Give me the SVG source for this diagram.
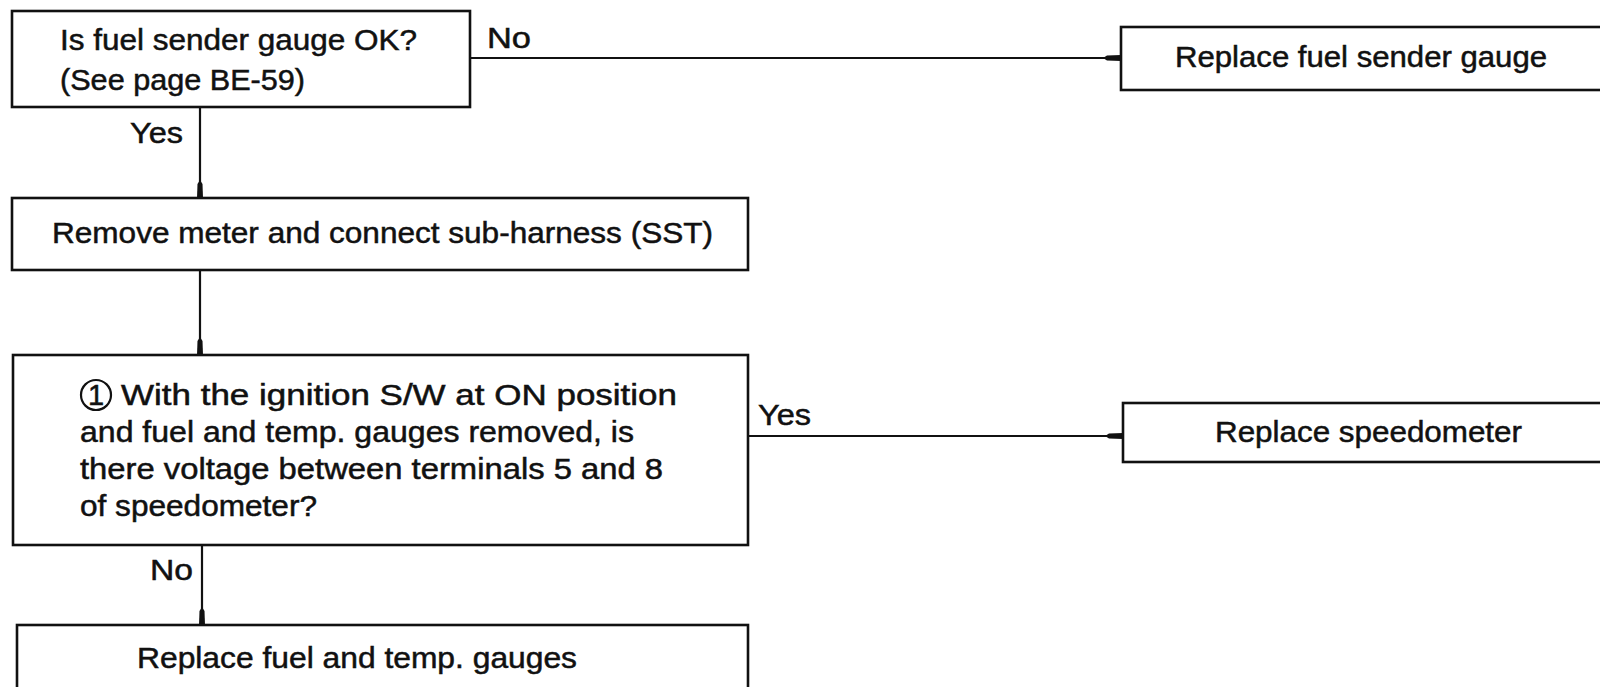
<svg xmlns="http://www.w3.org/2000/svg" width="1600" height="687" viewBox="0 0 1600 687">
  <style>
    .box { fill: #ffffff; stroke: #111111; stroke-width: 2.6; }
    .txt { font-family: "Liberation Sans", Arial, sans-serif; font-size: 29px; fill: #111111; stroke: #111111; stroke-width: 0.5; }
    .lbl { font-family: "Liberation Sans", Arial, sans-serif; font-size: 29px; fill: #111111; stroke: #111111; stroke-width: 0.5; }
    .wire { fill: none; stroke: #111111; stroke-width: 2.2; }
  </style>
  <defs>
    <marker id="arrow" markerUnits="userSpaceOnUse" markerWidth="20" markerHeight="10" refX="18" refY="4" orient="auto">
      <path d="M0,4 L4,1.5 L18,1 L18,7 L4,6.5 Z" fill="#111111"/>
    </marker>
  </defs>
  <rect width="1600" height="687" fill="#ffffff"/>

  <!-- connectors -->
  <g id="connectors">
    <line class="wire" x1="470" y1="58" x2="1121" y2="58" marker-end="url(#arrow)"/>
    <line class="wire" x1="200" y1="107" x2="200" y2="198" marker-end="url(#arrow)"/>
    <line class="wire" x1="200" y1="270" x2="200" y2="355" marker-end="url(#arrow)"/>
    <line class="wire" x1="748" y1="436" x2="1123" y2="436" marker-end="url(#arrow)"/>
    <line class="wire" x1="202" y1="545" x2="202" y2="625" marker-end="url(#arrow)"/>
    <text class="lbl" x="487" y="48" textLength="44" lengthAdjust="spacingAndGlyphs">No</text>
    <text class="lbl" x="130" y="143" textLength="53" lengthAdjust="spacingAndGlyphs">Yes</text>
    <text class="lbl" x="758" y="425" textLength="53" lengthAdjust="spacingAndGlyphs">Yes</text>
    <text class="lbl" x="150" y="580" textLength="43" lengthAdjust="spacingAndGlyphs">No</text>
  </g>

  <!-- decision: fuel sender gauge -->
  <g id="check-sender">
    <rect class="box" x="12" y="11" width="458" height="96"/>
    <text class="txt" x="60" y="50" textLength="357" lengthAdjust="spacingAndGlyphs">Is fuel sender gauge OK?</text>
    <text class="txt" x="60" y="90" textLength="245" lengthAdjust="spacingAndGlyphs">(See page BE-59)</text>
  </g>

  <g id="replace-sender">
    <rect class="box" x="1121" y="27" width="500" height="63"/>
    <text class="txt" x="1175" y="67" textLength="372" lengthAdjust="spacingAndGlyphs">Replace fuel sender gauge</text>
  </g>

  <g id="remove-meter">
    <rect class="box" x="12" y="198" width="736" height="72"/>
    <text class="txt" x="52" y="243" textLength="661" lengthAdjust="spacingAndGlyphs">Remove meter and connect sub-harness (SST)</text>
  </g>

  <!-- decision: voltage at speedometer terminals -->
  <g id="check-voltage">
    <rect class="box" x="13" y="355" width="735" height="190"/>
    <circle cx="96" cy="395" r="15" fill="none" stroke="#111111" stroke-width="2.2"/>
    <text class="txt" x="96" y="405" text-anchor="middle" font-size="26">1</text>
    <text class="txt" x="121" y="405" textLength="556" lengthAdjust="spacingAndGlyphs">With the ignition S/W at ON position</text>
    <text class="txt" x="80" y="442" textLength="554" lengthAdjust="spacingAndGlyphs">and fuel and temp. gauges removed, is</text>
    <text class="txt" x="80" y="479" textLength="583" lengthAdjust="spacingAndGlyphs">there voltage between terminals 5 and 8</text>
    <text class="txt" x="80" y="516" textLength="237" lengthAdjust="spacingAndGlyphs">of speedometer?</text>
  </g>

  <g id="replace-speedometer">
    <rect class="box" x="1123" y="403" width="500" height="59"/>
    <text class="txt" x="1215" y="442" textLength="307" lengthAdjust="spacingAndGlyphs">Replace speedometer</text>
  </g>

  <g id="replace-gauges">
    <rect class="box" x="17" y="625" width="731" height="90"/>
    <text class="txt" x="137" y="668" textLength="440" lengthAdjust="spacingAndGlyphs">Replace fuel and temp. gauges</text>
  </g>
</svg>
